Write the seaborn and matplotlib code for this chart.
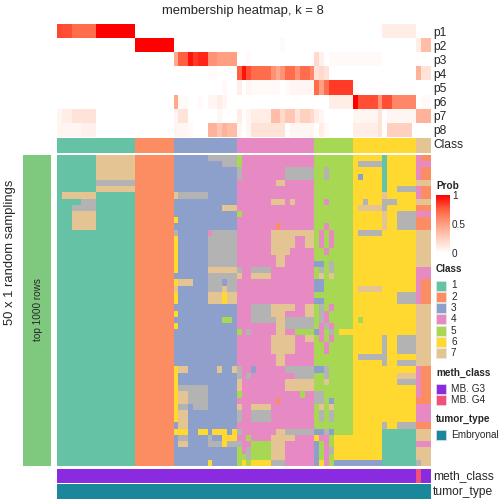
import numpy as np
import pandas as pd
import matplotlib
matplotlib.use('Agg')
import matplotlib.pyplot as plt
from matplotlib.colors import ListedColormap, LinearSegmentedColormap
from matplotlib.patches import Rectangle
import seaborn as sns

sns.set_style('white')
plt.rcParams['font.family'] = ['Liberation Sans', 'DejaVu Sans']

# column classes (77 samples), grouped 1..7
COL_CLASS = '1111111111111111 22222222 3333333333333 4444444444444444 55555555 6666666666666 777'

# membership probabilities, one list per row, columns grouped by class
p1 = ([0.82, 0.8, 0.8, 0.7, 0.7, 0.7, 0.7, 0.7, 1, 1, 1, 1, 1, 1, 1, 1] + [0] * 8 + [0] * 13 + [0] * 16 + [0] * 8
      + [0, 0, 0, 0, 0, 0, 0.1, 0.1, 0.1, 0.1, 0.1, 0.1, 0.1] + [0, 0, 0])
p2 = ([0] * 16 + [1] * 8 + [0] * 13
      + [0, 0, 0, 0, 0, 0, 0, 0, 0, 0.03, 0, 0, 0, 0, 0, 0] + [0] * 8 + [0] * 13 + [0.1, 0.35, 0.35])
p3 = ([0] * 16 + [0] * 8
      + [0.45, 0.75, 0.75, 0.95, 0.85, 0.9, 0.9, 0.55, 0.55, 0.5, 0.5, 0.5, 0.5]
      + [0, 0, 0.03, 0, 0, 0, 0, 0, 0, 0, 0, 0, 0, 0, 0, 0]
      + [0.2, 0.08, 0, 0.03, 0.03, 0.03, 0.03, 0.03]
      + [0.03, 0.03, 0.03, 0.03, 0.03, 0.03, 0, 0, 0, 0, 0, 0, 0] + [0, 0, 0])
p4 = ([0] * 16 + [0] * 8
      + [0, 0, 0, 0, 0, 0, 0, 0.02, 0.02, 0, 0, 0, 0]
      + [0.75, 0.95, 0.8, 0.7, 0.7, 0.7, 0.7, 0.55, 0.45, 0.55, 0.7, 0.7, 0.55, 0.7, 0.7, 0.6]
      + [0.15, 0.2, 0.15, 0, 0, 0, 0, 0] + [0] * 13 + [0.4, 0.15, 0.15])
p5 = ([0] * 16 + [0] * 8
      + [0, 0, 0, 0, 0, 0, 0, 0, 0, 0, 0.03, 0, 0]
      + [0.1, 0, 0.05, 0.03, 0.03, 0.03, 0.03, 0.03, 0.03, 0, 0.03, 0.05, 0.05, 0.05, 0.05, 0.05]
      + [0.7, 0.5, 0.7, 0.85, 0.85, 0.85, 0.85, 0.85]
      + [0.03, 0, 0, 0, 0, 0, 0, 0, 0, 0, 0, 0, 0] + [0, 0, 0])
p6 = ([0] * 16 + [0] * 8
      + [0.45, 0.03, 0.03, 0, 0, 0.03, 0, 0.05, 0.05, 0.1, 0.05, 0, 0]
      + [0] * 16
      + [0, 0, 0, 0.1, 0.1, 0.1, 0.1, 0.1]
      + [1.0, 0.8, 0.8, 0.8, 0.8, 0.55, 0.8, 0.8, 0.6, 0.6, 0.6, 0.6, 0.6] + [0, 0.03, 0.03])
p7 = ([0.05, 0.1, 0.1, 0.15, 0.15, 0.15, 0.15, 0.15, 0, 0, 0, 0, 0, 0, 0, 0] + [0] * 8
      + [0.05, 0.15, 0.15, 0, 0, 0, 0, 0, 0, 0.05, 0, 0, 0]
      + [0.1, 0, 0.05, 0.1, 0.1, 0.1, 0.1, 0.35, 0.35, 0.2, 0.3, 0.3, 0.15, 0.25, 0.25, 0.2]
      + [0.1, 0.05, 0, 0, 0, 0, 0, 0]
      + [0.05, 0.05, 0.05, 0.05, 0.05, 0.15, 0, 0.05, 0.05, 0.05, 0.05, 0.05, 0.05] + [0.4, 0.4, 0.4])
p8 = ([0.05, 0.05, 0.05, 0.05, 0.05, 0.08, 0.08, 0.08, 0, 0, 0, 0, 0, 0, 0, 0] + [0] * 8
      + [0.05, 0.05, 0.05, 0.03, 0, 0, 0, 0.4, 0.4, 0.3, 0.4, 0.35, 0.35]
      + [0.05, 0, 0.05, 0.15, 0.15, 0.15, 0.15, 0.15, 0.15, 0.15, 0, 0.05, 0.05, 0.05, 0.05, 0.05]
      + [0, 0.1, 0.03, 0, 0, 0, 0, 0]
      + [0.1, 0.1, 0.1, 0.1, 0.1, 0.15, 0, 0.25, 0.25, 0.25, 0.25, 0.25, 0] + [0, 0, 0])
PROB_ROWS = ['p1', 'p2', 'p3', 'p4', 'p5', 'p6', 'p7', 'p8']

# class calls per random sampling (50 rows); 8 = unassigned (grey)
SAMPLINGS = [
    '1111111177777777 22222222 3333333888888 5444444444444444 55555555 6666661666666 422',
    '1111111177777777 22222222 3333333333888 5444444444444444 55555555 6888881666666 444',
    '1111111177777777 22222222 3333333333333 8444444444888888 55855555 6666661666666 422',
    '1111111177777777 22222222 3333333333333 8444444444888888 55855555 6366661666666 422',
    '1111111188888888 22222222 3333333333333 4444444477444444 55555555 6666661666666 777',
    '1111111177777777 22222222 3333333333333 4444444444444444 55555555 6666661668888 422',
    '1777777711111111 22222222 7888888333333 4444444444444444 55555555 6666667666666 422',
    '1111188811111111 22222222 3333333333333 4444444777474444 55455555 6686668886666 777',
    '1118888811111111 22222222 3333333333777 4444444444444444 55555555 6777778666666 222',
    '1117777711111111 22222222 3333333333333 5444444444444444 55555555 6666667668888 444',
    '1117777711111111 22222222 6333333333333 4444444444444444 55555555 6666667668888 222',
    '1117777711111111 22222222 3333333333333 4444444424444444 55455555 6666667668888 222',
    '1111111111111111 22222222 8333333488888 4444444777777777 54545555 6888886666666 777',
    '1111111111111111 22222222 6333333888888 4444444777774477 54545555 6666666666666 777',
    '1111111111111111 22222222 6333333888888 4444444777774477 54545555 6666666666666 777',
    '1111111111111111 22222222 6333333888888 4444444777744444 55455555 6666666666666 777',
    '1111111111111111 22222222 6333333888888 4444444477444444 55555555 6666666666666 777',
    '1111111111111111 22222222 6333333888888 4444444477444444 33585555 6666666666666 777',
    '1111111111111111 22222222 6333333777777 8448888444444444 58585555 6666666666666 444',
    '1111111111111111 22222222 3333333888888 7447777444444444 57575555 6666666666666 444',
    '1111111111111111 22222222 6777333888388 4444444444444444 33555555 6666666666666 422',
    '1111111111111111 22222222 7333333888788 4444444444444444 33555555 6777776666666 422',
    '1111111111111111 22222222 6333333777677 4444444444444444 55555555 6666666668888 422',
    '1111111111111111 22222222 6333333777677 4444444444444444 33555555 6666666668888 422',
    '1111111111111111 22222222 3333333333333 4448888777774477 58545555 6666666666666 777',
    '1111111111111111 22222222 6333333333333 4448888777444477 58455555 6666666666666 777',
    '1111111111111111 22222222 3333333333553 4448888877888888 58455555 6566666666666 777',
    '1111111111111111 22222222 6333333333333 4444444477888888 54845555 6666666666666 777',
    '1111111111111111 22222222 3333333333333 5484444477445555 34585666 6666666666666 777',
    '1111111111111111 22222222 3333333333333 4444444777774477 54545555 6666668668888 777',
    '1111111111111111 22222222 3333333333333 4444444777774444 55455555 6666668668888 777',
    '1111111111111111 22222222 3333333333333 4444444777774444 55455555 6666668668888 777',
    '1111111111111111 22222222 3333333333333 4444444477444444 55555555 6888888666666 777',
    '1111111111111111 22222222 3333333333333 4444444477444444 55555555 6666668668888 777',
    '1111111111111111 22222222 6773333337337 8443444444888888 33855555 6666666666666 422',
    '1111111111111111 22222222 6333333333333 8484444444448888 55855555 6666666667777 422',
    '1111111111111111 22222222 6333333333333 7444444444777777 55755555 6666666668888 422',
    '1111111111111111 22222222 6888888333333 7444444444777777 55555555 6666666666666 422',
    '1111111111111111 22222222 6778888333333 5444444444444544 88555555 6666666666666 422',
    '1111111111111111 22222222 6778888333333 4444444424444444 88535555 6666666666666 222',
    '1111111111111111 22222222 6883888333333 7447777444444444 57575555 6666666666666 444',
    '1111111111111111 22222222 6773333333333 8448888444444444 58585555 6666666666666 444',
    '1111111111111111 22222222 6773333333333 8448888444444444 58585555 6666666666666 444',
    '1111111111111111 22222222 3773333333333 4444444444444444 55555555 6666668668888 222',
    '1111111111111111 22222222 6663366366636 8444444477888888 33835555 6666661111111 777',
    '1111111111111111 22222222 3883333833666 4454444777774444 64456666 6666661111111 777',
    '1111111111111111 22222222 3773333888688 8445555777444444 35456666 6666661111111 444',
    '1111111111111111 22222222 3333333333333 5485555777444444 35486666 6666661111111 777',
    '1111111111111111 22222222 3333333333333 5585555777444444 35456666 6666661111111 777',
    '1111111111111111 22222222 3333333633333 5656666888444444 36453333 3333331111111 877',
]

# sample annotations: 0 = MB. G3, 1 = MB. G4
METH_CLASS = '0000000000000000 00000000 0000000000000 0000000000000000 00000000 0000000000000 100'
TUMOR_TYPE = '0000000000000000 00000000 0000000000000 0000000000000000 00000000 0000000000000 000'

CLASS_LABELS = ['1', '2', '3', '4', '5', '6', '7']
CLASS_COLORS = ['#66C2A5', '#FC8D62', '#8DA0CB', '#E78AC3', '#A6D854', '#FFD92F', '#E5C494', '#B3B3B3']
METH_LABELS = ['MB. G3', 'MB. G4']
METH_COLORS = ['#8A2BE2', '#F0507A']
TUMOR_LABELS = ['Embryonal']
TUMOR_COLORS = ['#1B879A']


def digits(s):
    return [int(c) for c in s.replace(' ', '')]


prob = pd.DataFrame([p1, p2, p3, p4, p5, p6, p7, p8], index=PROB_ROWS)
main = pd.DataFrame([digits(r) for r in SAMPLINGS])
col_class = pd.DataFrame([digits(COL_CLASS)])
meth = pd.DataFrame([digits(METH_CLASS)])
tumor = pd.DataFrame([digits(TUMOR_TYPE)])

prob_cmap = LinearSegmentedColormap.from_list(
    'prob', [(0, '#FFFFFF'), (0.25, '#FFD0BF'), (0.5, '#FF9E82'), (0.75, '#FF6140'), (1, '#FF0000')])
class_cmap = ListedColormap(CLASS_COLORS)

W = H = 504
fig = plt.figure(figsize=(7, 7), dpi=72)


def ax_px(x0, y0, x1, y1):
    return fig.add_axes([x0 / W, 1 - y1 / H, (x1 - x0) / W, (y1 - y0) / H])


X0, X1 = 57, 431

ax_top = ax_px(X0, 24, X1, 137)
sns.heatmap(prob, ax=ax_top, cmap=prob_cmap, vmin=0, vmax=1, cbar=False,
            xticklabels=False, yticklabels=True)
ax_top.yaxis.set_ticks_position('right')
ax_top.tick_params(axis='y', length=0, pad=2, labelsize=12, labelrotation=0)
ax_top.set_xlabel('')
ax_top.set_ylabel('')

ax_cls = ax_px(X0, 138, X1, 153)
sns.heatmap(col_class, ax=ax_cls, cmap=class_cmap, vmin=0.5, vmax=8.5, cbar=False,
            xticklabels=False, yticklabels=False)

ax_main = ax_px(X0, 155, X1, 466)
sns.heatmap(main, ax=ax_main, cmap=class_cmap, vmin=0.5, vmax=8.5, cbar=False,
            xticklabels=False, yticklabels=False)

ax_meth = ax_px(X0, 469, X1, 483)
sns.heatmap(meth, ax=ax_meth, cmap=ListedColormap(METH_COLORS), vmin=-0.5, vmax=1.5, cbar=False,
            xticklabels=False, yticklabels=False)

ax_tum = ax_px(X0, 484, X1, 499)
sns.heatmap(tumor, ax=ax_tum, cmap=ListedColormap(TUMOR_COLORS), vmin=-0.5, vmax=0.5, cbar=False,
            xticklabels=False, yticklabels=False)

# colour bar for Prob
cax = ax_px(436, 195, 450, 253)
sm = plt.cm.ScalarMappable(cmap=prob_cmap, norm=plt.Normalize(0, 1))
cb = fig.colorbar(sm, cax=cax, ticks=[0, 0.5, 1])
cb.outline.set_visible(False)
cb.ax.set_yticklabels(['0', '0.5', '1'])
cax.tick_params(length=3, width=0.8, color='white', direction='in', labelsize=10, pad=2)

# overlay for annotation text and legends
ov = fig.add_axes([0, 0, 1, 1], zorder=5)
ov.set_xlim(0, W)
ov.set_ylim(H, 0)
ov.axis('off')
ov.patch.set_alpha(0)

ov.text(243, 11, 'membership heatmap, k = 8', ha='center', va='center', fontsize=13)
ov.text(433, 145.5, 'Class', ha='left', va='center', fontsize=12)
ov.text(433, 476, 'meth_class', ha='left', va='center', fontsize=12)
ov.text(433, 491.5, 'tumor_type', ha='left', va='center', fontsize=12)

ov.add_patch(Rectangle((23, 155), 28, 311, facecolor='#7FC97F', edgecolor='none'))
ov.text(38, 310, 'top 1000 rows', rotation=90, ha='center', va='center', fontsize=10)
ov.text(10, 252, '50 x 1 random samplings', rotation=90, ha='center', va='center', fontsize=13)

ov.text(436, 186, 'Prob', ha='left', va='center', fontsize=10, fontweight='bold')


def legend_block(title, labels, colors, y_title, y_first, step=11.3):
    ov.text(436, y_title, title, ha='left', va='center', fontsize=10, fontweight='bold')
    for i, (lab, col) in enumerate(zip(labels, colors)):
        y = y_first + i * step
        ov.add_patch(Rectangle((436, y - 5), 10, 10, facecolor=col, edgecolor='#E8E8E8', lw=0.6))
        ov.text(451, y, lab, ha='left', va='center', fontsize=10)


legend_block('Class', CLASS_LABELS, CLASS_COLORS[:7], 269, 285.5)
legend_block('meth_class', METH_LABELS, METH_COLORS, 373, 388.5)
legend_block('tumor_type', TUMOR_LABELS, TUMOR_COLORS, 419, 434.5)

fig.savefig('out.png', dpi=72)
